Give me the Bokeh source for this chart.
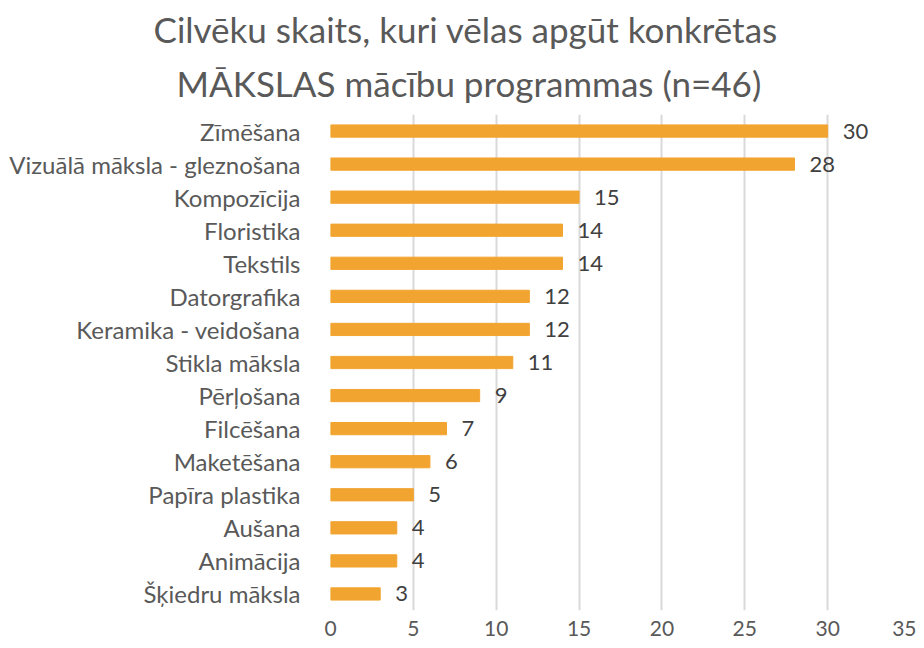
from bokeh.plotting import figure
from bokeh.models import FactorRange, ColumnDataSource, FixedTicker, LabelSet, Title
from bokeh.core.properties import value
from bokeh.embed import file_html
from bokeh.resources import INLINE

categories = ["Zīmēšana", "Vizuālā māksla - gleznošana", "Kompozīcija", "Floristika",
              "Tekstils", "Datorgrafika", "Keramika - veidošana", "Stikla māksla",
              "Pērļošana", "Filcēšana", "Maketēšana", "Papīra plastika", "Aušana",
              "Animācija", "Šķiedru māksla"]
counts = [30, 28, 15, 14, 14, 12, 12, 11, 9, 7, 6, 5, 4, 4, 3]
x_ticks = [0, 5, 10, 15, 20, 25, 30, 35]
title_lines = ["Cilvēku skaits, kuri vēlas apgūt konkrētas",
               "MĀKSLAS mācību programmas (n=46)"]

FONT = "Lato"
GREY = "#595959"

src = ColumnDataSource(dict(cat=categories, val=counts, lab=[str(v) for v in counts]))

p = figure(width=916, height=640, output_backend="svg", toolbar_location=None, title=None,
           y_range=FactorRange(factors=list(reversed(categories)), range_padding=0),
           x_range=(0, 35),
           min_border_left=330, min_border_right=6, min_border_top=114, min_border_bottom=30)
p.outline_line_color = None

p.hbar(y="cat", right="val", left=0, height=0.37, source=src, color="#F2A430")

labels = LabelSet(x="val", y="cat", text="lab", source=src, x_offset=15,
                  text_baseline="middle", text_font=value(FONT), text_font_size="22px",
                  text_color="#404040")
p.add_layout(labels)

# two title lines, each shifted so it is centred on the whole canvas
for line, off, so in zip(reversed(title_lines), [-154, -177], [21, 0]):
    p.add_layout(Title(text=line, align="left", offset=off, standoff=so,
                       text_font=FONT, text_font_size="35px", text_font_style="normal",
                       text_color=GREY), "above")

p.xaxis.ticker = FixedTicker(ticks=x_ticks)
p.xgrid.ticker = FixedTicker(ticks=x_ticks)
p.xgrid.grid_line_color = "#D9D9D9"
p.xgrid.grid_line_width = 2
p.ygrid.grid_line_color = None
for ax in (p.xaxis, p.yaxis):
    ax.axis_line_color = None
    ax.major_tick_line_color = None
    ax.minor_tick_line_color = None
    ax.major_label_text_font = FONT
    ax.major_label_text_color = GREY
p.yaxis.major_label_text_font_size = "24px"
p.xaxis.major_label_text_font_size = "21px"
p.yaxis.major_label_standoff = 24
p.xaxis.major_label_standoff = 4

open("out.html", "w").write(file_html(p, INLINE))
